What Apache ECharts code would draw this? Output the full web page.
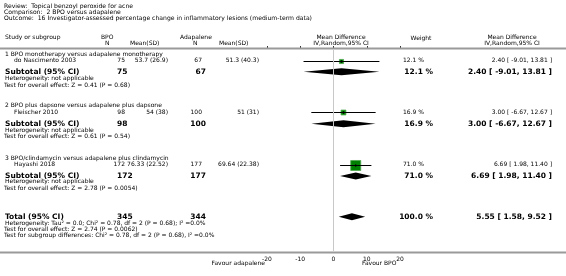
<!DOCTYPE html>
<html>
<head>
<meta charset="utf-8">
<script src="https://cdn.jsdelivr.net/npm/echarts@6/dist/echarts.min.js"></script>
<style>
html, body { margin: 0; padding: 0; background: #fff; }
#chart { width: 566px; height: 276px; }
</style>
</head>
<body>
<div id="chart"></div>
<script>
// values
var groupTitles = [
  '1 BPO monotherapy versus adapalene monotherapy',
  '2 BPO plus dapsone versus adapalene plus dapsone',
  '3 BPO/clindamycin versus adapalene plus clindamycin'
]
var studies = ['do Nascimento 2003', 'Fleischer 2010', 'Hayashi 2018']
var bpoN = [75, 98, 172]
var bpoMeanSD = ['53.7 (26.9)', '54 (38)', '76.33 (22.52)']
var adaN = [67, 100, 177]
var adaMeanSD = ['51.3 (40.3)', '51 (31)', '69.64 (22.38)']
var studyMD = [2.40, 3.00, 6.69]
var studyLow = [-9.01, -6.67, 1.98]
var studyHigh = [13.81, 12.67, 11.40]
var studyWeight = [12.1, 16.9, 71.0]

var subMD = [2.40, 3.00, 6.69]
var subLow = [-9.01, -6.67, 1.98]
var subHigh = [13.81, 12.67, 11.40]
var subWeight = [12.1, 16.9, 71.0]
var subTests = ['Z = 0.41 (P = 0.68)', 'Z = 0.61 (P = 0.54)', 'Z = 2.78 (P = 0.0054)']

var totalN = [345, 344]
var totalMD = 5.55
var totalLow = 1.58
var totalHigh = 9.52
var totalWeight = 100.0
var footTexts = [
  'Heterogeneity: Tau\u00b2 = 0.0; Chi\u00b2 = 0.78, df = 2 (P = 0.68); I\u00b2 =0.0%',
  'Test for overall effect: Z = 2.74 (P = 0.0062)',
  'Test for subgroup differences: Chi\u00b2 = 0.78, df = 2 (P = 0.68), I\u00b2 =0.0%'
]

// row positions (in text lines, top of plot area = 0)
var groupRows = [0.8, 8.95, 17.2]
var studyRows = [1.85, 10.0, 18.25]
var subRows = [3.6, 11.8, 20.0]
var hetRows = [4.62, 12.77, 20.92]
var testRows = [5.67, 13.71, 21.91]
var totalRow = 26.45
var footRows = [27.43, 28.37, 29.4]

var FONT = '"DejaVu Sans", Verdana, sans-serif'

function fmt(v) { return v.toFixed(2) }
function ci(m, l, h) { return fmt(m) + ' [ ' + fmt(l) + ', ' + fmt(h) + ' ]' }

var myChart = echarts.init(document.getElementById('chart'), null, { renderer: 'canvas' })

var studyData = studyRows.map(function (r, i) {
  return [r, studyMD[i], studyLow[i], studyHigh[i], studyWeight[i]]
})
var diamondData = subRows.map(function (r, i) {
  return [r, subMD[i], subLow[i], subHigh[i]]
})
diamondData.push([totalRow, totalMD, totalLow, totalHigh])

var option = {
  animation: false,
  backgroundColor: '#fff',
  grid: { left: 267, width: 133, top: 49, height: 203 },
  xAxis: {
    type: 'value',
    min: -20,
    max: 20,
    interval: 10,
    axisLine: { show: false },
    axisTick: { show: true, inside: true, length: 3, lineStyle: { color: '#333', width: 1 } },
    axisLabel: { fontSize: 6, color: '#000', margin: 4, fontFamily: FONT },
    splitLine: { show: false }
  },
  yAxis: {
    type: 'value',
    inverse: true,
    min: 0,
    max: 32,
    show: false
  },
  series: [
    {
      type: 'custom',
      name: 'studies',
      data: studyData,
      encode: { x: [1, 2, 3], y: 0 },
      renderItem: function (params, api) {
        var y = api.value(0)
        var lo = api.coord([api.value(2), y])
        var hi = api.coord([api.value(3), y])
        var mid = api.coord([api.value(1), y])
        var s = 1.19 * Math.sqrt(api.value(4))
        var py = Math.round(mid[1]) + 0.5
        return {
          type: 'group',
          children: [
            {
              type: 'rect',
              shape: { x: mid[0] - s / 2, y: py - s / 2, width: s, height: s },
              style: { fill: '#008000', stroke: '#4fa84f', lineWidth: 0.8 }
            },
            {
              type: 'line',
              shape: { x1: lo[0], y1: py, x2: hi[0], y2: py },
              style: { stroke: '#000', lineWidth: 1 }
            },
            {
              type: 'line',
              shape: { x1: mid[0], y1: py - 1.5, x2: mid[0], y2: py + 1.5 },
              style: { stroke: '#000', lineWidth: 0.8 }
            }
          ]
        }
      },
      markLine: {
        silent: true,
        symbol: ['none', 'none'],
        label: { show: false },
        lineStyle: { color: '#c8c8c8', width: 1, type: 'solid' },
        data: [{ xAxis: 0 }]
      },
      z: 3
    },
    {
      type: 'custom',
      name: 'diamonds',
      data: diamondData,
      encode: { x: [1, 2, 3], y: 0 },
      renderItem: function (params, api) {
        var y = api.value(0)
        var lo = api.coord([api.value(2), y])
        var hi = api.coord([api.value(3), y])
        var mid = api.coord([api.value(1), y])
        var h = 3.5
        return {
          type: 'polygon',
          shape: { points: [[lo[0], lo[1]], [mid[0], mid[1] - h], [hi[0], hi[1]], [mid[0], mid[1] + h]] },
          style: { fill: '#000' }
        }
      },
      z: 3
    }
  ]
}
myChart.setOption(option)

function rowY(r) { return myChart.convertToPixel({ yAxisIndex: 0 }, r) }

var texts = []
function addText(x, y, str, align, kind) {
  var font = kind === 'b' ? 'bold 7.5px ' + FONT : (kind === 't' ? '6.1px ' + FONT : '6px ' + FONT)
  texts.push({
    type: 'text',
    silent: true,
    z: 10,
    style: { x: x, y: y, text: str, font: font, fill: '#000', textAlign: align, textVerticalAlign: 'middle' }
  })
}

// heading
addText(4, 6, 'Review:  Topical benzoyl peroxide for acne', 'left', 't')
addText(4, 12, 'Comparison:  2 BPO versus adapalene', 'left', 't')
addText(4, 18, 'Outcome:  16 Investigator-assessed percentage change in inflammatory lesions (medium-term data)', 'left', 't')

// column headers
addText(5, 37.5, 'Study or subgroup', 'left', 's')
addText(101, 37, 'BPO', 'left', 's')
addText(105, 43.5, 'N', 'left', 's')
addText(130, 43.5, 'Mean(SD)', 'left', 's')
addText(180, 37, 'Adapalene', 'left', 's')
addText(193, 43.5, 'N', 'left', 's')
addText(219, 43.5, 'Mean(SD)', 'left', 's')
addText(341, 37, 'Mean Difference', 'center', 's')
addText(341, 43.5, 'IV,Random,95% CI', 'center', 's')
addText(421, 38, 'Weight', 'center', 's')
addText(512, 37, 'Mean Difference', 'center', 's')
addText(512, 43.5, 'IV,Random,95% CI', 'center', 's')

groupTitles.forEach(function (t, i) {
  addText(5, rowY(groupRows[i]), t, 'left', 's')
  var ys = rowY(studyRows[i])
  addText(14, ys, studies[i], 'left', 's')
  addText(125, ys, String(bpoN[i]), 'right', 's')
  addText(168, ys, bpoMeanSD[i], 'right', 's')
  addText(202, ys, String(adaN[i]), 'right', 's')
  addText(259, ys, adaMeanSD[i], 'right', 's')
  addText(424, ys, studyWeight[i].toFixed(1) + ' %', 'right', 's')
  addText(552, ys, ci(studyMD[i], studyLow[i], studyHigh[i]), 'right', 's')

  var yb = rowY(subRows[i])
  addText(5, yb, 'Subtotal (95% CI)', 'left', 'b')
  addText(117, yb, String(bpoN[i]), 'left', 'b')
  addText(206, yb, String(adaN[i]), 'right', 'b')
  addText(433, yb, subWeight[i].toFixed(1) + ' %', 'right', 'b')
  addText(552, yb, ci(subMD[i], subLow[i], subHigh[i]), 'right', 'b')

  addText(5, rowY(hetRows[i]), 'Heterogeneity: not applicable', 'left', 's')
  addText(4, rowY(testRows[i]), 'Test for overall effect: ' + subTests[i], 'left', 's')
})

var yt = rowY(totalRow)
addText(5, yt, 'Total (95% CI)', 'left', 'b')
addText(117, yt, String(totalN[0]), 'left', 'b')
addText(206, yt, String(totalN[1]), 'right', 'b')
addText(433, yt, totalWeight.toFixed(1) + ' %', 'right', 'b')
addText(552, yt, ci(totalMD, totalLow, totalHigh), 'right', 'b')
footTexts.forEach(function (t, i) {
  addText(i === 0 ? 5 : 4, rowY(footRows[i]), t, 'left', 's')
})

var yAxisPx = rowY(32)
addText(265, 263, 'Favour adapalene', 'right', 's')
addText(362, 263, 'Favour BPO', 'left', 's')

// full-width rules
texts.push({
  type: 'line', silent: true, z: 1,
  shape: { x1: 0, y1: 48.5, x2: 566, y2: 48.5 },
  style: { stroke: '#9a9a9a', lineWidth: 2 }
})
texts.push({
  type: 'line', silent: true, z: 1,
  shape: { x1: 0, y1: yAxisPx + 0.5, x2: 566, y2: yAxisPx + 0.5 },
  style: { stroke: '#9a9a9a', lineWidth: 2 }
})

myChart.setOption({ graphic: texts })
</script>
</body>
</html>
